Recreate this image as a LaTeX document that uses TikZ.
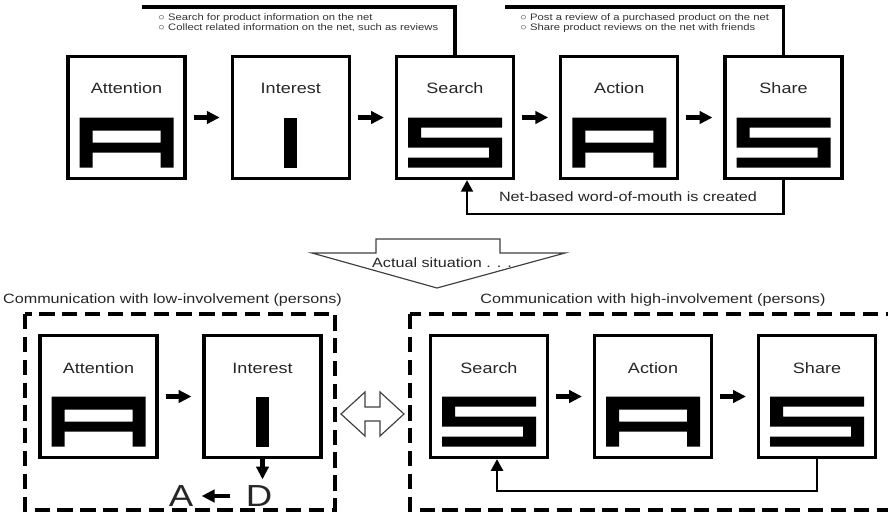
\documentclass[tikz,border=0pt]{standalone}
\usepackage{fontspec}
\setmainfont{Liberation Sans}[FakeStretch=1.2]
\usetikzlibrary{arrows.meta}

\begin{document}
\begin{tikzpicture}[x=0.03cm,y=-0.03cm,
  box/.style={draw,line width=2.6pt,minimum width=3.51cm,minimum height=3.66cm,inner sep=0pt},
  lbl/.style={font=\fontsize{12.8}{14}\selectfont,text=black!85,inner sep=0pt},
  note/.style={font=\fontsize{11.5}{13}\selectfont,text=black!85,inner sep=0pt},
  tiny/.style={font=\fontsize{8}{8.7}\selectfont,text=black!80,align=left,anchor=west,inner sep=0pt},
  big/.style={font=\fontsize{26}{28}\selectfont,text=black!85,inner sep=0pt},
  stepArrow/.style={line width=4pt,-{Triangle[length=11pt,width=10.5pt]}},
  fbArrow/.style={line width=2.4pt,-{Triangle[length=10pt,width=10pt]}},
  dashbox/.style={line width=3.6pt,dash pattern=on 13pt off 6.5pt},
  outline/.style={line width=1pt,draw=black!75,fill=white},
  pics/glyphA/.style={code={\fill[even odd rule] (-47,0) -- (47,0) -- (47,50) -- (34,50) -- (34,35) -- (-34,35) -- (-34,50) -- (-47,50) -- cycle (-34,13) rectangle (34,25);}},
  pics/glyphI/.style={code={\fill (-6.5,0) rectangle (6.5,50);}},
  pics/glyphS/.style={code={\fill (-47,0) -- (47,0) -- (47,10) -- (-34,10) -- (-34,20) -- (47,20) -- (47,50) -- (-47,50) -- (-47,40) -- (34,40) -- (34,30) -- (-47,30) -- cycle;}}
]
\useasboundingbox (0,0) rectangle (888,521);
\clip (0,0) rectangle (888,521);
\fill[white] (0,0) rectangle (888,521);

% AISAS chain
\foreach \i/\x/\lab/\g in {1/126.5/Attention/A, 2/290.75/Interest/I, 3/455/Search/S, 4/619.25/Action/A, 5/783.5/Share/S}
{
  \node[box] (t\i) at (\x,117.5) {};
  \node[lbl] (t\i-lbl) at (\x,88.5) {\lab};
  \pic at (\x,117.5) {glyph\g};
}
\foreach \i [evaluate=\i as \j using int(\i+1)] in {1,...,4}
{
  \draw[stepArrow] ([xshift=0.21cm]t\i.east) -- ([xshift=-0.33cm]t\j.west);
}

% notes above
\coordinate (srchEnd) at (142,7);
\coordinate (shareEnd) at (505,7);
\draw[line width=2.6pt] (t3.north) |- (srchEnd);
\draw[line width=2.6pt] (t5.north) |- (shareEnd);
\node[tiny] (srchNote) at (158,23) {○ Search for product information on the net\\○ Collect related information on the net, such as reviews};
\node[tiny] (shareNote) at (520,23) {○ Post a review of a purchased product on the net\\○ Share product reviews on the net with friends};

\draw[fbArrow] (t5.south) -- ++(0,34) -| ([xshift=0.36cm]t3.south);
\node[note] (wom) at (628,197) {Net-based word-of-mouth is created};

% actual situation
\draw[outline] (376,239) -- (500,239) -- (500,253) -- (565,253) -- (437,288) -- (312,253) -- (376,253) -- cycle;
\node[note] (actual) at (442,263) {Actual situation . . .};

\node[note] (lowLbl) at (172.5,300) {Communication with low-involvement (persons)};
\node[note] (highLbl) at (653,300) {Communication with high-involvement (persons)};
\draw[dashbox] (25,314) rectangle (335,510);
\draw[dashbox] (410,314) rectangle (905,510);

% low involvement
\foreach \i/\x/\lab/\g in {1/98.5/Attention/A, 2/262.5/Interest/I}
{
  \node[box] (l\i) at (\x,396.5) {};
  \node[lbl] (l\i-lbl) at (\x,368) {\lab};
  \pic at (\x,396.5) {glyph\g};
}
\draw[stepArrow] ([xshift=0.21cm]l1.east) -- ([xshift=-0.33cm]l2.west);
\node[big] (dLet) at (259,496) {D};
\node[big] (aLet) at (181,496) {A};
\draw[stepArrow, shorten >=5pt] (l2.south) -- (l2.south |- dLet.north);
\draw[stepArrow, shorten <=13pt, shorten >=7pt] (dLet.west) -- (aLet.east);

\draw[outline] (341,414) -- (365,392) -- (365,407) -- (380,407) -- (380,392) -- (404,414) -- (380,436) -- (380,421) -- (365,421) -- (365,436) -- cycle;

% high involvement
\foreach \i/\x/\lab/\g in {1/489/Search/S, 2/653/Action/A, 3/817/Share/S}
{
  \node[box] (h\i) at (\x,396.5) {};
  \node[lbl] (h\i-lbl) at (\x,368) {\lab};
  \pic at (\x,396.5) {glyph\g};
}
\draw[stepArrow] ([xshift=0.21cm]h1.east) -- ([xshift=-0.33cm]h2.west);
\draw[stepArrow] ([xshift=0.21cm]h2.east) -- ([xshift=-0.33cm]h3.west);
\draw[fbArrow] (h3.south) -- ++(0,32) -| ([xshift=0.24cm]h1.south);

\end{tikzpicture}
\end{document}
